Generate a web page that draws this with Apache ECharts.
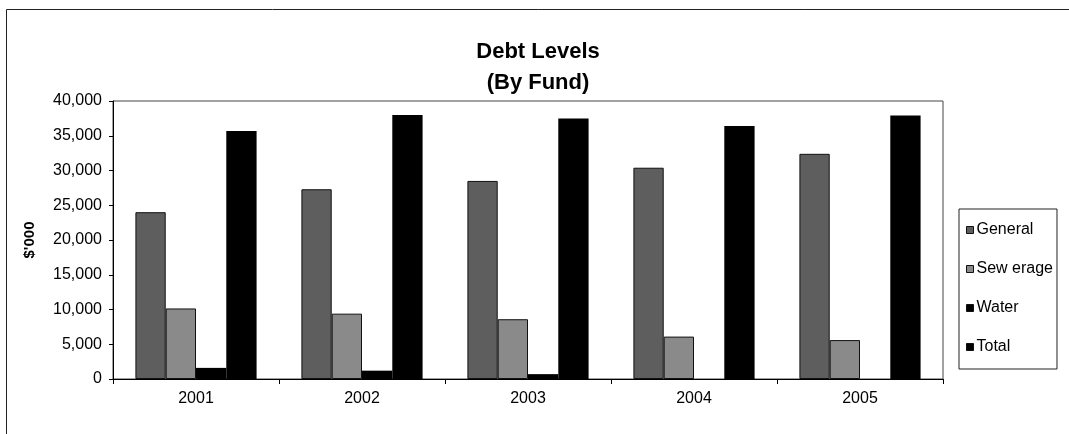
<!DOCTYPE html>
<html>
<head>
<meta charset="utf-8">
<title>Debt Levels (By Fund)</title>
<script src="https://cdn.jsdelivr.net/npm/echarts@6/dist/echarts.min.js"></script>
<style>
  html, body { margin: 0; padding: 0; background: #fff; }
  #chart { width: 1069px; height: 434px; }
</style>
</head>
<body>
<div id="chart"></div>
<script>
// Debt by fund, in thousands of dollars
const years = ['2001', '2002', '2003', '2004', '2005'];
const general = [24000, 27300, 28500, 30400, 32400];
const sewerage = [10150, 9400, 8600, 6100, 5600];
const water = [1600, 1200, 700, 0, 0];
const total = [35700, 38000, 37500, 36400, 37900];
const seriesNames = ['General', 'Sew erage', 'Water', 'Total'];

const FONT = '"Liberation Sans", Arial, sans-serif';

const chart = echarts.init(document.getElementById('chart'), null, { renderer: 'canvas' });

function barSeries(name, data, color, border) {
  return {
    name: name,
    type: 'bar',
    data: data,
    barGap: '0%',
    barCategoryGap: '27%',
    itemStyle: {
      color: color,
      borderColor: border ? '#111' : color,
      borderWidth: border ? 1 : 0
    },
    emphasis: { disabled: true }
  };
}

chart.setOption({
  animation: false,
  backgroundColor: '#fff',
  textStyle: { fontFamily: FONT, color: '#000' },
  title: {
    text: 'Debt Levels\n(By Fund)',
    left: 533,
    top: 31,
    textAlign: 'center',
    textStyle: {
      fontFamily: FONT,
      fontSize: 22,
      fontWeight: 'bold',
      lineHeight: 31,
      color: '#000'
    }
  },
  graphic: [{
    // outer chart frame
    type: 'rect',
    silent: true,
    shape: { x: 6.5, y: 9.5, width: 1200, height: 600 },
    style: { fill: null, stroke: '#222', lineWidth: 1 }
  }],
  legend: {
    orient: 'vertical',
    left: 959,
    top: 209,
    padding: [13, 4, 14, 7],
    itemWidth: 7,
    itemHeight: 7,
    itemGap: 23,
    borderColor: '#222',
    borderWidth: 1,
    borderRadius: 0,
    icon: 'rect',
    textStyle: { fontFamily: FONT, fontSize: 16, lineHeight: 16, color: '#000', padding: [0, 0, 0, -2] },
    itemStyle: { borderColor: '#111', borderWidth: 1 },
    data: seriesNames
  },
  grid: {
    left: 113,
    right: 126,
    top: 101,
    bottom: 55,
    show: true,
    borderColor: '#444',
    borderWidth: 1,
    backgroundColor: 'transparent'
  },
  xAxis: {
    type: 'category',
    data: years,
    axisLine: { lineStyle: { color: '#000', width: 1 } },
    axisTick: { show: true, length: 5, lineStyle: { color: '#000' } },
    axisLabel: { fontFamily: FONT, fontSize: 16, color: '#000', margin: 12 },
    splitLine: { show: false }
  },
  yAxis: {
    type: 'value',
    min: 0,
    max: 40000,
    interval: 5000,
    name: "$'000",
    nameLocation: 'middle',
    nameRotate: 90,
    nameGap: 76,
    nameTextStyle: { fontFamily: FONT, fontSize: 15, fontWeight: 'bold', color: '#000' },
    axisLine: { show: true, lineStyle: { color: '#000', width: 1 } },
    axisTick: { show: true, length: 4, lineStyle: { color: '#000' } },
    axisLabel: {
      fontFamily: FONT,
      fontSize: 16,
      color: '#000',
      margin: 11,
      formatter: v => v.toLocaleString('en-US')
    },
    splitLine: { show: false }
  },
  series: [
    barSeries(seriesNames[0], general, '#5e5e5e', true),
    barSeries(seriesNames[1], sewerage, '#8a8a8a', true),
    barSeries(seriesNames[2], water, '#000', false),
    barSeries(seriesNames[3], total, '#000', false)
  ]
});
</script>
</body>
</html>
